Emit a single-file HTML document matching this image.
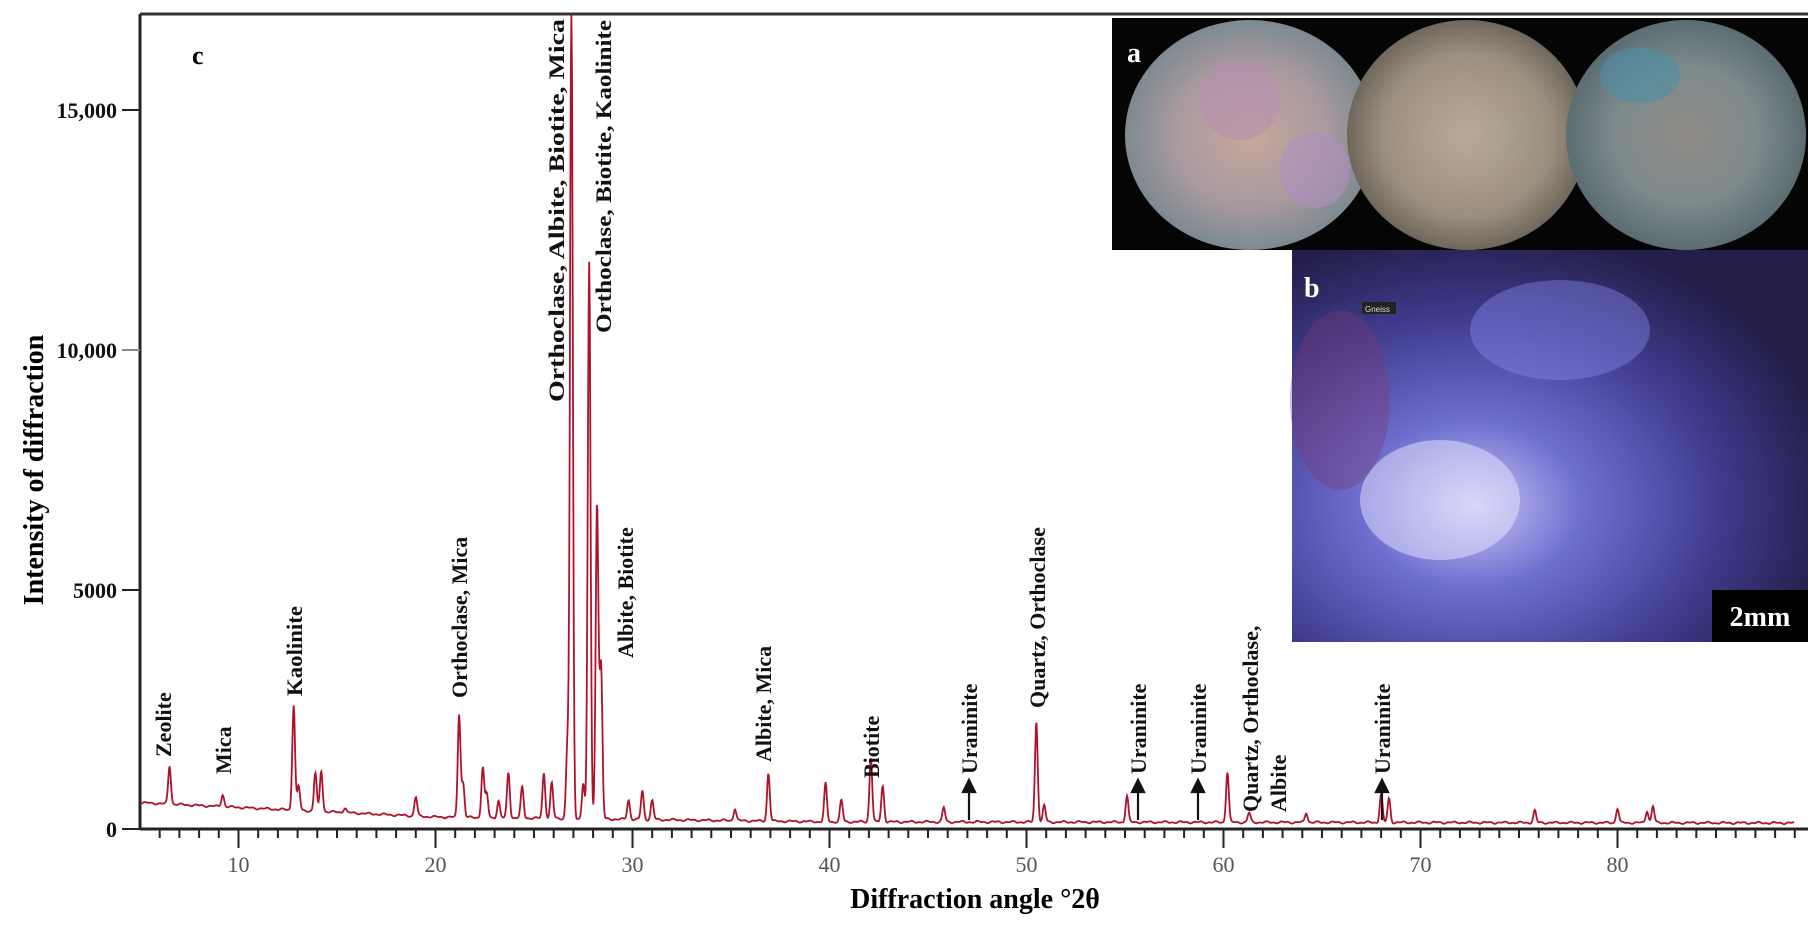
<!DOCTYPE html>
<html><head><meta charset="utf-8"><style>
html,body{margin:0;padding:0;background:#fff;}
body{width:1815px;height:930px;position:relative;overflow:hidden;font-family:"Liberation Serif",serif;}
svg{position:absolute;left:0;top:0;}
</style></head><body>
<svg width="1815" height="930" viewBox="0 0 1815 930">
<defs>
<radialGradient id="c1" cx="50%" cy="50%" r="50%"><stop offset="0" stop-color="#c9a89a"/><stop offset="0.6" stop-color="#a99aa0"/><stop offset="1" stop-color="#7d8a90"/></radialGradient>
<radialGradient id="c2" cx="50%" cy="50%" r="50%"><stop offset="0" stop-color="#b8ab98"/><stop offset="0.7" stop-color="#9c8f7f"/><stop offset="1" stop-color="#6f675c"/></radialGradient>
<radialGradient id="c3" cx="50%" cy="50%" r="50%"><stop offset="0" stop-color="#8f8a86"/><stop offset="0.6" stop-color="#7d8a8c"/><stop offset="1" stop-color="#5b6c72"/></radialGradient>
<radialGradient id="bb" cx="35%" cy="65%" r="70%"><stop offset="0" stop-color="#c9c8f2"/><stop offset="0.3" stop-color="#6f6fd0"/><stop offset="0.7" stop-color="#3d3a8a"/><stop offset="1" stop-color="#241f4a"/></radialGradient>
</defs>
<line x1="140" y1="14" x2="1808" y2="14" stroke="#333" stroke-width="3"/>
<line x1="140" y1="14" x2="140" y2="829" stroke="#222" stroke-width="3"/>
<line x1="140" y1="829" x2="1808" y2="829" stroke="#222" stroke-width="3"/>
<g id="ticks" stroke="#222" stroke-width="2"></g>
<g stroke="#222" stroke-width="2">
<line x1="122" y1="110" x2="140" y2="110"/><line x1="122" y1="350" x2="140" y2="350" stroke="#888"/><line x1="122" y1="590" x2="140" y2="590"/><line x1="122" y1="829" x2="140" y2="829"/>
</g>
<g font-weight="bold" font-size="22" text-anchor="end" fill="#111">
<text x="117" y="118">15,000</text><text x="117" y="358">10,000</text><text x="117" y="598">5000</text><text x="117" y="837">0</text>
</g>
<text x="192" y="64" font-weight="bold" font-size="26">c</text>
<text transform="translate(43,470) rotate(-90)" text-anchor="middle" font-weight="bold" font-size="28">Intensity of diffraction</text>
<text x="975" y="908" text-anchor="middle" font-weight="bold" font-size="28">Diffraction angle °2θ</text>
<g id="xl" font-size="22" fill="#555" text-anchor="middle"></g>
<path id="spec" fill="none" stroke="#b0122a" stroke-width="1.8"/>
<g font-weight="bold" font-size="22" fill="#111">
<text transform="translate(171,757) rotate(-90)">Zeolite</text>
<text transform="translate(231,774) rotate(-90)">Mica</text>
<text transform="translate(302,696) rotate(-90)" textLength="90" lengthAdjust="spacingAndGlyphs">Kaolinite</text>
<text transform="translate(467,698) rotate(-90)">Orthoclase, Mica</text>
<text transform="translate(564,402) rotate(-90)" textLength="383" lengthAdjust="spacingAndGlyphs">Orthoclase, Albite, Biotite, Mica</text>
<text transform="translate(611,333) rotate(-90)" textLength="313" lengthAdjust="spacingAndGlyphs">Orthoclase, Biotite, Kaolinite</text>
<text transform="translate(633,658) rotate(-90)">Albite, Biotite</text>
<text transform="translate(771,762) rotate(-90)">Albite, Mica</text>
<text transform="translate(879,778) rotate(-90)">Biotite</text>
<text transform="translate(977,774) rotate(-90)">Uraninite</text>
<text transform="translate(1045,708) rotate(-90)">Quartz, Orthoclase</text>
<text transform="translate(1146,774) rotate(-90)">Uraninite</text>
<text transform="translate(1206,774) rotate(-90)">Uraninite</text>
<text transform="translate(1258,812) rotate(-90)">Quartz, Orthoclase,</text>
<text transform="translate(1286,812) rotate(-90)">Albite</text>
<text transform="translate(1390,774) rotate(-90)">Uraninite</text>
</g>
<g stroke="#111" stroke-width="2.2" fill="#111">
<line x1="969" y1="820" x2="969" y2="790"/><polygon points="963,792 975,792 969,780"/>
<line x1="1138" y1="820" x2="1138" y2="790"/><polygon points="1132,792 1144,792 1138,780"/>
<line x1="1198" y1="820" x2="1198" y2="790"/><polygon points="1192,792 1204,792 1198,780"/>
<line x1="1382" y1="820" x2="1382" y2="790"/><polygon points="1376,792 1388,792 1382,780"/>
</g>
<rect x="1112" y="18" width="696" height="232" fill="#050505"/>
<ellipse cx="1250" cy="135" rx="125" ry="115" fill="url(#c1)"/>
<ellipse cx="1240" cy="100" rx="40" ry="40" fill="#b58fb0" opacity="0.6"/>
<ellipse cx="1315" cy="170" rx="35" ry="38" fill="#b090c0" opacity="0.6"/>
<ellipse cx="1467" cy="135" rx="120" ry="115" fill="url(#c2)"/>
<ellipse cx="1686" cy="135" rx="120" ry="115" fill="url(#c3)"/>
<ellipse cx="1640" cy="75" rx="40" ry="28" fill="#4d8fa6" opacity="0.6"/>
<text x="1127" y="62" font-weight="bold" font-size="28" fill="#fff">a</text>
<rect x="1292" y="250" width="516" height="392" fill="url(#bb)"/>
<ellipse cx="1440" cy="500" rx="80" ry="60" fill="#e6e6ff" opacity="0.5"/>
<ellipse cx="1560" cy="330" rx="90" ry="50" fill="#8c8ef0" opacity="0.4"/>
<ellipse cx="1340" cy="400" rx="50" ry="90" fill="#7a3a70" opacity="0.35"/>
<text x="1304" y="297" font-weight="bold" font-size="28" fill="#fff">b</text>
<rect x="1362" y="302" width="34" height="12" fill="#222"/>
<text x="1365" y="312" font-size="8" fill="#ddd" font-family="Liberation Sans,sans-serif">Gneiss</text>
<rect x="1712" y="590" width="96" height="52" fill="#000"/>
<text x="1760" y="626" text-anchor="middle" font-weight="bold" font-size="28" fill="#fff">2mm</text>
</svg>
<script>
(function(){
var X=function(t){return 140+(t-5)*19.7;};
var Y=function(v){return 829-v*0.048;};
var tk=document.getElementById('ticks'),xl=document.getElementById('xl'),s='';
for(var t=6;t<=89;t++){var big=(t%10==0);var x=X(t);
 s+='<line x1="'+x+'" y1="829" x2="'+x+'" y2="'+(big?848:838)+'"/>';}
tk.innerHTML=s;s='';
for(var t=10;t<=80;t+=10)s+='<text x="'+X(t)+'" y="872">'+t+'</text>';
xl.innerHTML=s;
var P=[[6.5,800],[9.2,250],[12.8,2200],[13.05,500],[13.9,800],[14.2,850],[15.4,100],[19.0,400],[21.2,2150],[21.4,700],[22.4,1050],[22.6,500],[23.2,350],[23.7,950],[24.4,650],[25.5,950],[25.9,750],[26.7,1550],[26.9,17000],[27.5,750],[27.8,11600],[28.2,6600],[28.4,3200],[29.8,400],[30.5,600],[31.0,400],[35.2,250],[36.9,1000],[39.8,800],[40.6,450],[42.1,1350],[42.7,750],[45.8,300],[50.5,2100],[50.9,350],[55.1,550],[60.2,1050],[61.3,200],[64.2,200],[68.0,600],[68.4,500],[75.8,250],[80.0,300],[81.5,250],[81.8,350]];
var d='';
for(var t=5;t<=89;t+=0.03){
 var b=t<20?550-(t-5)*20:(t<40?250-(t-20)*5:150-(t-40)*0.5);
 b+=Math.sin(t*7.3)*15+Math.sin(t*17.1)*10;
 var v=b;
 for(var i=0;i<P.length;i++){var dx=(t-P[i][0])/0.07;v+=P[i][1]*Math.exp(-dx*dx/2);}
 var y=Math.max(Y(v),14);
 d+=(d?'L':'M')+X(t).toFixed(1)+' '+y.toFixed(1);
}
document.getElementById('spec').setAttribute('d',d);
})();
</script>
</body></html>
